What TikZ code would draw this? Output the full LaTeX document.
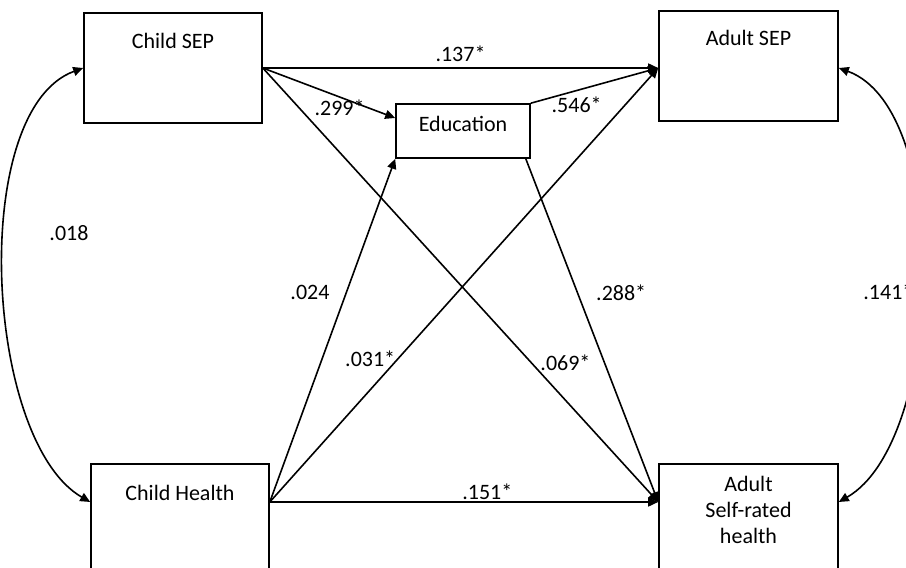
\documentclass[tikz,border=0pt]{standalone}
\usepackage{fontspec}
\setmainfont{Carlito}
\usetikzlibrary{arrows, arrows.meta}
\usetikzlibrary{positioning}

\tikzset{
	varbox/.style={draw, line width=.8pt, minimum width=89pt, minimum height=55pt, inner sep=0pt},
	boxtext/.style={font=\fontsize{11}{13}\selectfont, align=center, anchor=north, inner sep=1pt},
	coef/.style={font=\fontsize{11}{13}\selectfont, inner sep=1pt},
	link/.style={line width=.8pt, ->},
	>={Triangle[length=5pt,width=4.5pt]}
}

\begin{document}
\begin{tikzpicture}[x=.5pt, y=.5pt]
				\useasboundingbox (0,0) rectangle (906,568);
				%boxes
				\node[varbox, label={[boxtext, yshift=-9.5pt]north:Child SEP}] (csep) at (173,500) {};
				\node[varbox, minimum width=89.5pt, label={[boxtext, yshift=-9pt]north:Adult SEP}] (asep) at (748.5,502) {};
				\node[varbox, minimum width=67pt, minimum height=27pt, label={[boxtext, yshift=-5.5pt]north:Education}] (edu) at (463,437) {};
				\node[varbox, minimum height=56pt, label={[boxtext, yshift=-10pt]north:Child Health}] (chealth) at (180,48) {};
				\node[varbox, minimum width=89.5pt, minimum height=56pt, label={[boxtext, yshift=-5.5pt]north:Adult\\Self-rated\\health}] (asrh) at (748.5,48) {};
				
				% paths from child SEP
				\draw[link] (csep.east) -- ([yshift=-1pt]asep.west) node[coef, midway, above=2pt] {.137*};
				\draw[link] (csep.east) -- ([yshift=6.5pt]edu.west) node[coef, pos=.58, below=0pt] {.299*};
				\draw[link] (csep.east) -- ([yshift=9pt]asrh.west) node[coef, pos=.68, right=3pt] {.069*};
				
				% paths from education
				\draw[link] (edu.north east) -- ([yshift=-1pt]asep.west) node[coef, pos=.36, below=2pt] {.546*};
				\draw[link] ([xshift=-2.5pt]edu.south east) -- ([yshift=9pt]asrh.west) node[coef, pos=.39, right=8pt] {.288*};
				
				% paths from child health
				\draw[link] ([yshift=9pt]chealth.east) -- (edu.south west) node[coef, pos=.61, left=7pt] {.024};
				\draw[link] ([yshift=9pt]chealth.east) -- ([yshift=-1pt]asep.west) node[coef, pos=.33, left=0pt] {.031*};
				\draw[link] ([yshift=9pt]chealth.east) -- ([yshift=9pt]asrh.west) node[coef, pos=.56, above=0pt] {.151*};
				
				% correlations
				\draw[link, <->] (csep.west) to[out=200, in=150, looseness=.72] ([yshift=9pt]chealth.west);
				\draw[link, <->] ([yshift=-1pt]asep.east) to[out=-20, in=30, looseness=.72] ([yshift=9pt]asrh.east);
				\node[coef] (rleft) at (69,335) {.018};
				\node[coef, anchor=west] (rright) at (861,276) {.141*};
			\end{tikzpicture}
\end{document}
